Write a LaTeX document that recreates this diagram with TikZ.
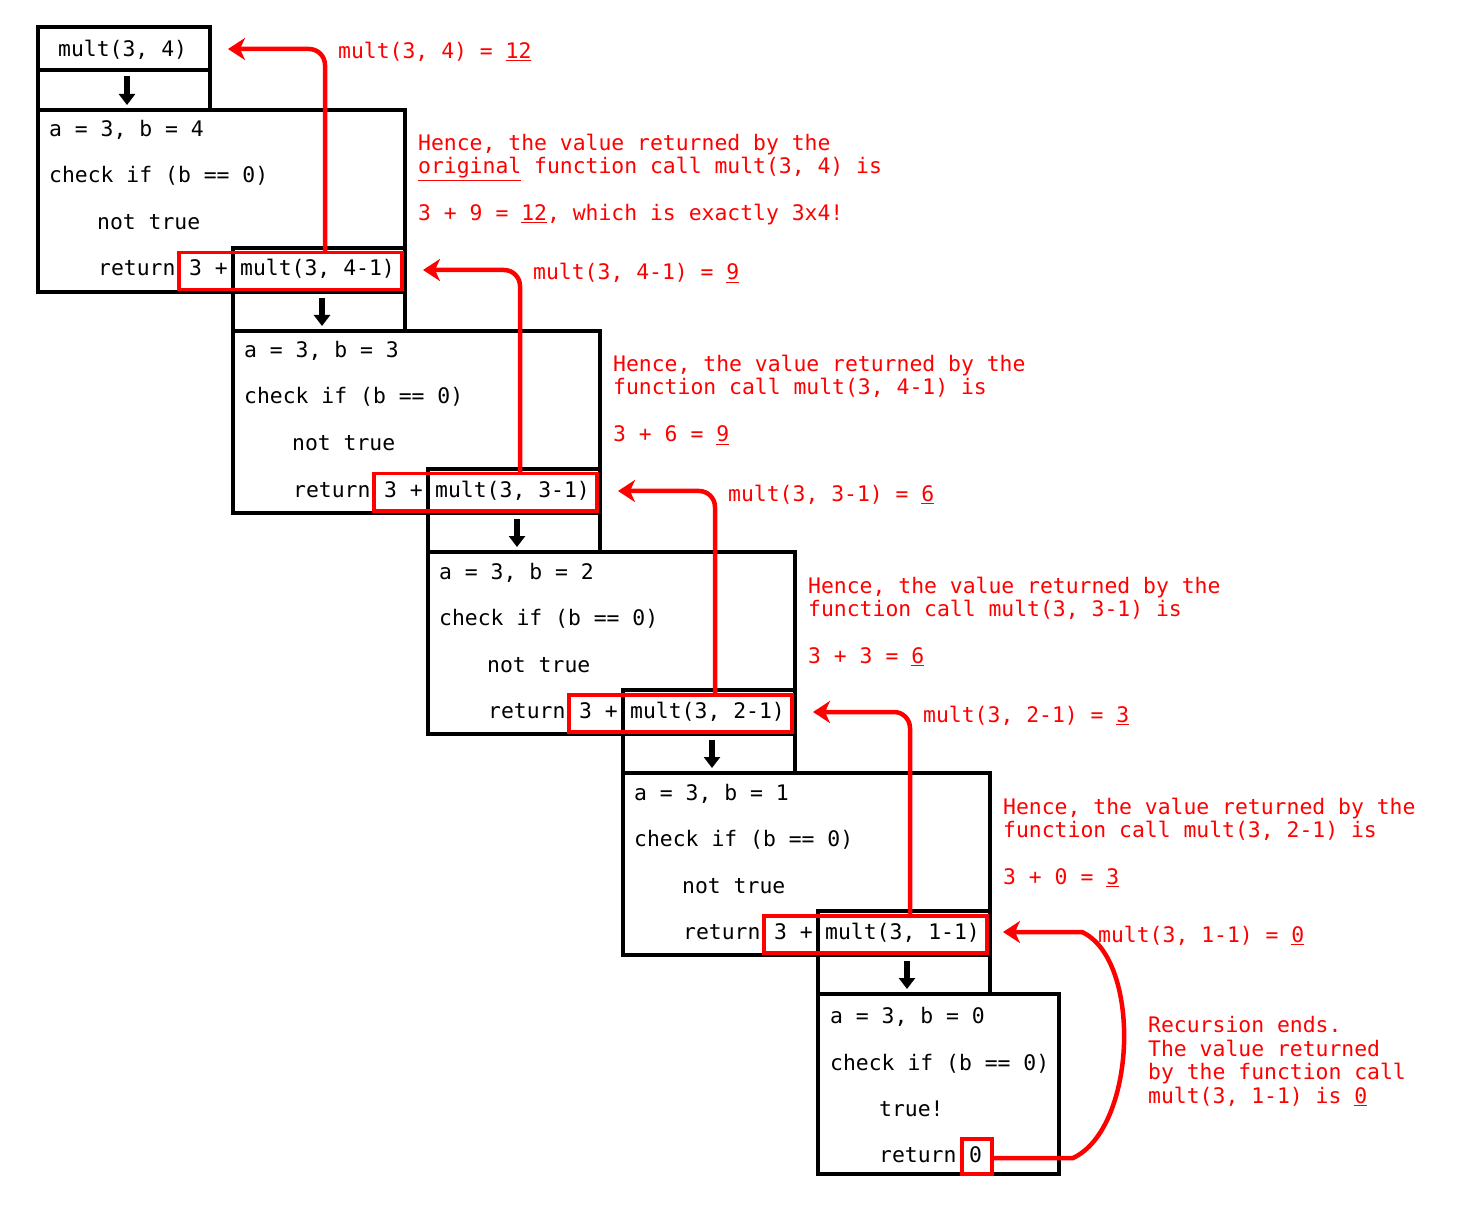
\documentclass[tikz,border=0pt]{standalone}
\usepackage{fontspec}
\setmainfont{DejaVu Sans Mono}
\usetikzlibrary{arrows.meta,calc,positioning}

\newcommand\codefont{\fontsize{21.4}{23}\selectfont}
\tikzset{
  frame/.style={draw=black, line width=4.6pt},
  code/.style={anchor=base west, inner sep=0pt, font=\codefont},
  note/.style={code, text=red},
  callbox/.style={draw=red, line width=3.5pt, anchor=north west, inner sep=0pt,
    minimum width=223pt, minimum height=37pt},
  retarrow/.style={draw=red, line width=4.5pt, rounded corners=16pt,
    -{Stealth[length=17pt,width=22pt,inset=5pt]}},
  downarrow/.style={line width=6pt, -{Triangle[length=11pt,width=16pt]}},
}

\begin{document}
\begin{tikzpicture}[x=1pt,y=-1pt]
\frenchspacing
\useasboundingbox (0,0) rectangle (1468,1230);

% the first call
\draw[frame] (38,27) rectangle (210,110);
\draw[frame] (38,70) -- (210,70);
\node[code] (call0) at (58,57) {mult(3, 4)};
\coordinate (down0a) at (127,76);
\coordinate (down0b) at (127,105);
\draw[downarrow] (down0a) -- (down0b);

% frames of the calls that recurse
\foreach \k in {1,...,4}{
  \pgfmathsetmacro\L{38+195*(\k-1)}
  \pgfmathsetmacro\T{110+221*(\k-1)}
  \draw[frame] (\L,\T) rectangle ++(367,182);
  \draw[frame] (\L+195,\T+138) rectangle (\L+367,\T+221);
  \coordinate (down\k a) at (\L+284,\T+188);
  \coordinate (down\k b) at (\L+284,\T+216);
  \draw[downarrow] (down\k a) -- (down\k b);
}
% base case frame
\draw[frame] (818,994) rectangle (1059,1174);

% code lines
\foreach \k/\b/\call in {1/4/{mult(3, 4-1)},2/3/{mult(3, 3-1)},
    3/2/{mult(3, 2-1)},4/1/{mult(3, 1-1)}}{
  \pgfmathsetmacro\L{38+195*(\k-1)}
  \pgfmathsetmacro\T{110+221*(\k-1)}
  \node[callbox] (rbox\k) at (\L+139,\T+141) {};
  \node[code] (vals\k) at (\L+11,\T+27) {a = 3, b = \b};
  \node[code] (check\k) at (\L+11,\T+73) {check if (b == 0)};
  \node[code] (res\k) at (\L+59,\T+120) {not true};
  \node[code] (ret\k) at (\L+60,\T+166) {return};
  \node[code] (plus\k) at (\L+151,\T+166) {3 +};
  \node[code] (call\k) at (\L+202,\T+166) {\call};
}
\node[code] (vals5) at (830,1023) {a = 3, b = 0};
\node[code] (check5) at (830,1070) {check if (b == 0)};
\node[code] (res5) at (879,1116) {true!};
\node[code] (ret5) at (879,1162) {return};
\node[callbox, minimum width=30pt, minimum height=35pt] (zero) at (960,1137) {};
\node[code] (zerotxt) at (969,1162) {0};

% returned values
\foreach \k/\lab/\expl/\total in {
  1/{mult(3, 4) = \underline{12}}/{\underline{original} function call mult(3, 4) is}/{3 + 9 = \underline{12}, which is exactly 3x4!},
  2/{mult(3, 4-1) = \underline{9}}/{function call mult(3, 4-1) is}/{3 + 6 = \underline{9}},
  3/{mult(3, 3-1) = \underline{6}}/{function call mult(3, 3-1) is}/{3 + 3 = \underline{6}},
  4/{mult(3, 2-1) = \underline{3}}/{function call mult(3, 2-1) is}/{3 + 0 = \underline{3}}}{
  \pgfmathsetmacro\L{38+195*(\k-1)}
  \pgfmathsetmacro\T{110+221*(\k-1)}
  \coordinate (bend\k) at (\L+287,\T-61);
  \coordinate (tip\k) at (\L+190,\T-61);
  \draw[retarrow] (rbox\k.north -| bend\k) -- (bend\k) -- (tip\k);
  \node[note] (lab\k) at (\L+300,\T-51) {\lab};
  \node[note] (hence\k) at (\L+380,\T+41) {Hence, the value returned by the};
  \node[note] (expl\k) at (\L+380,\T+64) {\expl};
  \node[note] (total\k) at (\L+380,\T+111) {\total};
}

% base case
\coordinate (turn5a) at (1073,1158);
\coordinate (turn5b) at (1082,932);
\coordinate (tip5) at (1003,932);
\draw[retarrow, rounded corners=0pt] (zero.east |- turn5a) -- (turn5a)
  .. controls (1137,1128) and (1142,960) .. (turn5b) -- (tip5);
\node[note] (lab5) at (1098,942) {mult(3, 1-1) = \underline{0}};
\node[note] (ends1) at (1148,1032) {Recursion ends.};
\node[note] (ends2) at (1148,1056) {The value returned};
\node[note] (ends3) at (1148,1079) {by the function call};
\node[note] (ends4) at (1148,1103) {mult(3, 1-1) is \underline{0}};
\end{tikzpicture}
\end{document}
